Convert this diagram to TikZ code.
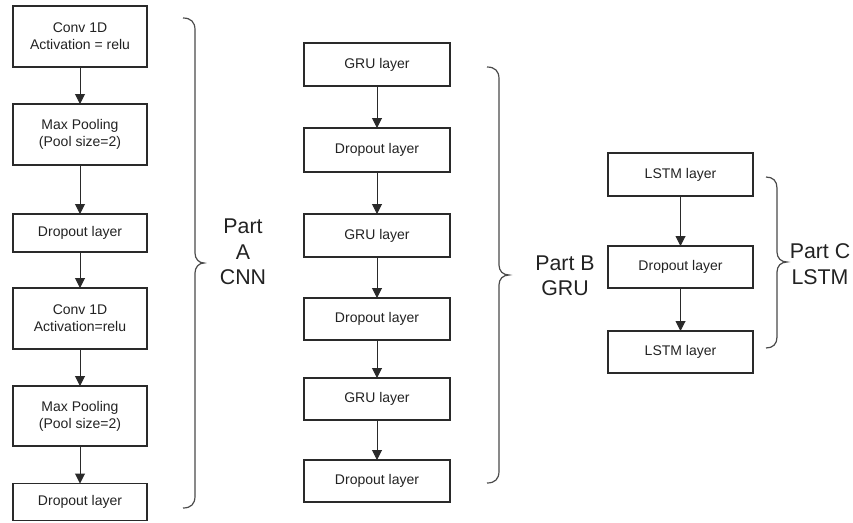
\documentclass[tikz,border=0pt]{standalone}
\usepackage{fontspec}
\setmainfont{Liberation Sans}
\usetikzlibrary{arrows.meta}
\definecolor{edge}{HTML}{2A2A2A}
\definecolor{txt}{HTML}{222222}
\definecolor{brc}{HTML}{4A4A4A}
\begin{document}
\begin{tikzpicture}[x=0.75pt,y=0.75pt,
  layerbox/.style={draw=edge,line width=0.9pt,inner sep=0pt,outer sep=0pt,align=center,
    text=txt,font=\fontsize{10.5pt}{12.75pt}\selectfont},
  colA/.style={layerbox,minimum width=100.5pt},
  colB/.style={layerbox,minimum width=109.5pt},
  colC/.style={layerbox,minimum width=108.75pt},
  flow/.style={draw=edge,line width=0.75pt,-{Triangle[length=7.5pt,width=7.5pt]}},
  bracepath/.style={draw=brc,line width=0.9pt},
  partlabel/.style={align=center,text=txt,font=\fontsize{16pt}{19pt}\selectfont,inner sep=0pt}]
\useasboundingbox (0,0) rectangle (853,-522);
% Column A (CNN)
\node[colA,minimum height=45.75pt] (a1) at (80,-36.5) {Conv 1D\\Activation = relu};
\node[colA,minimum height=45.75pt] (a2) at (80,-134.5) {Max Pooling\\(Pool size=2)};
\node[colA,minimum height=28.5pt] (a3) at (80,-233) {Dropout layer};
\node[colA,minimum height=45.75pt] (a4) at (80,-318.5) {Conv 1D\\Activation=relu};
\node[colA,minimum height=45pt] (a5) at (80,-416) {Max Pooling\\(Pool size=2)};
\node[colA,minimum height=27.75pt] (a6) at (80,-502) {Dropout layer};
\foreach \s/\t in {a1/a2,a2/a3,a3/a4,a4/a5,a5/a6} \draw[flow] (\s) -- (\t);
% Column B (GRU)
\node[colB,minimum height=32.25pt] (g1) at (377,-64.5) {GRU layer};
\node[colB,minimum height=33pt] (g2) at (377,-150) {Dropout layer};
\node[colB,minimum height=32.25pt] (g3) at (377,-235.5) {GRU layer};
\node[colB,minimum height=31.5pt] (g4) at (377,-319) {Dropout layer};
\node[colB,minimum height=31.5pt] (g5) at (377,-399) {GRU layer};
\node[colB,minimum height=31.5pt] (g6) at (377,-481) {Dropout layer};
\foreach \s/\t in {g1/g2,g2/g3,g3/g4,g4/g5,g5/g6} \draw[flow] (\s) -- (\t);
% Column C (LSTM)
\node[colC,minimum height=32.25pt] (l1) at (680.5,-174.5) {LSTM layer};
\node[colC,minimum height=31.5pt] (l2) at (680.5,-267) {Dropout layer};
\node[colC,minimum height=31.5pt] (l3) at (680.5,-352) {LSTM layer};
\foreach \s/\t in {l1/l2,l2/l3} \draw[flow] (\s) -- (\t);
% Braces
\draw[bracepath] (183,-18) .. controls (191,-18) and (195,-22) .. (195,-30) -- (195,-253)
  .. controls (195,-259) and (199,-263) .. (204,-263)
  .. controls (199,-263) and (195,-267) .. (195,-273) -- (195,-496)
  .. controls (195,-504) and (191,-508) .. (183,-508);
\draw[bracepath] (487,-67) .. controls (495,-67) and (499,-71) .. (499,-79) -- (499,-265)
  .. controls (499,-271) and (503,-275) .. (509,-275)
  .. controls (503,-275) and (499,-279) .. (499,-285) -- (499,-471)
  .. controls (499,-479) and (495,-483) .. (487,-483);
\draw[bracepath] (766,-177) .. controls (773,-177) and (777,-181) .. (777,-188) -- (777,-252)
  .. controls (777,-258) and (781,-262) .. (787,-262)
  .. controls (781,-262) and (777,-266) .. (777,-272) -- (777,-337)
  .. controls (777,-344) and (773,-348) .. (766,-348);
% Labels
\node[partlabel] (pa) at (243,-252) {Part\\A\\CNN};
\node[partlabel] (pb) at (565,-276) {Part B\\GRU};
\node[partlabel] (pc) at (820,-264) {Part C\\LSTM};
\end{tikzpicture}
\end{document}
